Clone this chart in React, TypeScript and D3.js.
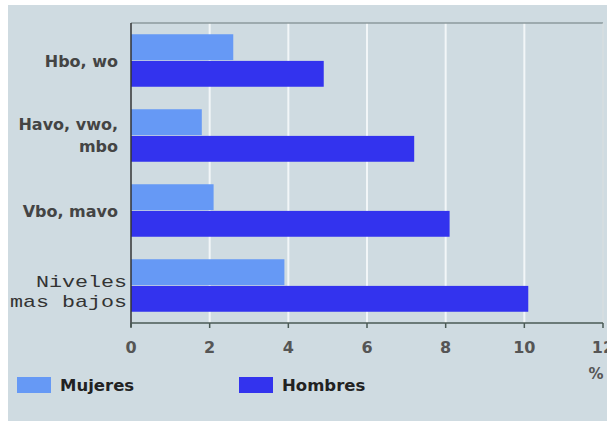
import * as d3 from "d3";

const categories = ["Hbo, wo", "Havo, vwo, mbo", "Vbo, mavo", "Niveles mas bajos"];
const labelLines = [["Hbo, wo"], ["Havo, vwo,", "mbo"], ["Vbo, mavo"], ["Niveles", "mas bajos"]];
const series = ["Mujeres", "Hombres"];
const mujeres = [2.6, 1.8, 2.1, 3.9];
const hombres = [4.9, 7.2, 8.1, 10.1];
const xTicks = [0, 2, 4, 6, 8, 10, 12];

const colors: Record<string, string> = { Mujeres: "#6699f5", Hombres: "#3333ee" };

const W = 607;
const H = 421;
const left = 131;
const right = 603;
const top = 23;
const bottom = 323;
const sans = "DejaVu Sans, Verdana, sans-serif";

export default function App() {
  const x = d3.scaleLinear().domain([0, 12]).range([left, right]);
  const y = d3.scaleBand<string>().domain(categories).range([top, bottom]).paddingInner(0.3).paddingOuter(0.15);
  const ys = d3.scaleBand<string>().domain(series).range([0, y.bandwidth()]).paddingInner(0.03);
  const values: Record<string, number[]> = { Mujeres: mujeres, Hombres: hombres };

  return (
    <div style={{ position: "absolute", left: 0, top: 0 }}>
      <svg width={W} height={H} style={{ display: "block" }}>
        <rect x={0} y={0} width={W} height={H} fill="#ffffff" />
        <rect x={8} y={5} width={W - 8} height={H - 5} fill="#cfdbe1" />

        {/* grid */}
        {xTicks.slice(1).map((t) => (
          <line key={t} x1={x(t)} x2={x(t)} y1={top} y2={bottom} stroke="#f2f6f8" strokeWidth={2} />
        ))}
        <line x1={left} x2={right} y1={top} y2={top} stroke="#8c9a9c" strokeWidth={1.5} />
        <line x1={right} x2={right} y1={top} y2={bottom} stroke="#b8c4c8" strokeWidth={1} />

        {/* bars */}
        {categories.map((c, i) => (
          <g key={c} transform={`translate(0,${y(c)})`}>
            {series.map((s) => (
              <rect
                key={s}
                x={x(0)}
                y={ys(s)}
                width={x(values[s][i]) - x(0)}
                height={ys.bandwidth()}
                fill={colors[s]}
              />
            ))}
          </g>
        ))}

        {/* axes */}
        <line x1={left} x2={left} y1={top} y2={bottom + 4} stroke="#333" strokeWidth={1.5} />
        <line x1={left} x2={right} y1={bottom} y2={bottom} stroke="#4a5a55" strokeWidth={1.5} />
        {xTicks.map((t) => (
          <g key={t}>
            <line x1={x(t)} x2={x(t)} y1={bottom} y2={bottom + 5} stroke="#4a5a55" strokeWidth={1.5} />
            <text x={x(t)} y={bottom + 30} textAnchor="middle" fontFamily={sans} fontWeight="bold" fontSize={16} fill="#555">
              {t}
            </text>
          </g>
        ))}
        <text x={596} y={379} textAnchor="middle" fontFamily={sans} fontWeight="bold" fontSize={15} fill="#555">
          %
        </text>

        {/* category labels */}
        {categories.map((c, i) => {
          const lines = labelLines[i];
          const mono = i === 3;
          const cy = (y(c) ?? 0) + y.bandwidth() / 2;
          const lh = mono ? 20 : 22;
          const off = mono ? 11.5 : lines.length > 1 ? 5.5 : 6.5;
          return (
            <g key={c}>
              {lines.map((l, j) => (
                <text
                  key={j}
                  x={mono ? 127 : 118}
                  y={cy + (j - (lines.length - 1) / 2) * lh + off}
                  textAnchor="end"
                  fontFamily={mono ? "Liberation Mono, Courier New, monospace" : sans}
                  fontWeight={mono ? "normal" : "bold"}
                  fontSize={mono ? 17 : 16}
                  fill={mono ? "#333" : "#444"}
                  textLength={mono ? l.length * 13 : undefined}
                  lengthAdjust={mono ? "spacingAndGlyphs" : undefined}
                >
                  {l}
                </text>
              ))}
            </g>
          );
        })}

        {/* legend */}
        {series.map((s, i) => (
          <g key={s} transform={`translate(${17 + i * 222},377)`}>
            <rect x={0} y={0} width={34} height={16} fill={colors[s]} />
            <text x={43} y={14} fontFamily={sans} fontWeight="bold" fontSize={16.5} fill="#222">
              {s}
            </text>
          </g>
        ))}
      </svg>
    </div>
  );
}
